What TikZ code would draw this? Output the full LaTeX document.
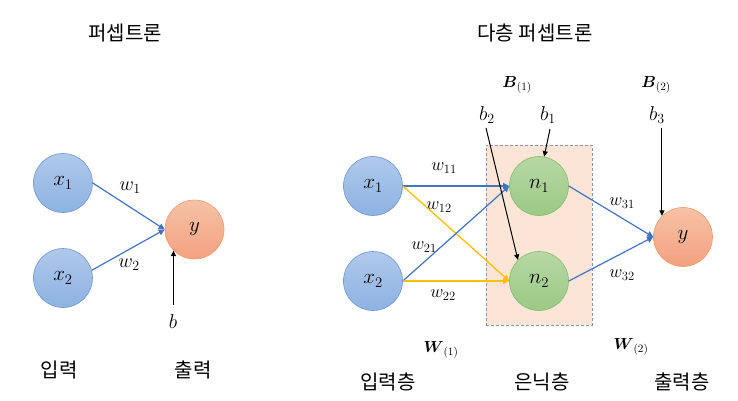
\RequirePackage{fix-cm}
\documentclass[tikz,border=0pt]{standalone}
\usepackage{amsmath}
\usepackage{fontspec}
\newfontfamily\kr{Noto Sans CJK KR}
\usetikzlibrary{arrows.meta}
\definecolor{bluetop}{HTML}{AFC9EA}
\definecolor{bluebot}{HTML}{8DB2E2}
\definecolor{bluebd}{HTML}{6E98CF}
\definecolor{orgtop}{HTML}{F6C2A6}
\definecolor{orgbot}{HTML}{F3A17F}
\definecolor{orgbd}{HTML}{EE9A68}
\definecolor{grntop}{HTML}{B6D8A3}
\definecolor{grnbot}{HTML}{9BC985}
\definecolor{grnbd}{HTML}{86BB6C}
\definecolor{arrblue}{HTML}{4472C4}
\definecolor{arryel}{HTML}{FFC000}
\definecolor{hidfill}{HTML}{FBE5D6}
\definecolor{hidbd}{HTML}{8497B0}
\begin{document}
\begin{tikzpicture}[x=1pt,y=-1pt,
  neuron/.style={circle,minimum size=59pt,inner sep=0pt,line width=0.6pt,font=\fontsize{21}{25}\selectfont},
  inn/.style={neuron,draw=bluebd,top color=bluetop,bottom color=bluebot},
  outn/.style={neuron,draw=orgbd,top color=orgtop,bottom color=orgbot},
  hidn/.style={neuron,draw=grnbd,top color=grntop,bottom color=grnbot},
  wbig/.style={inner sep=0pt,font=\fontsize{20}{24}\selectfont},
  wsm/.style={inner sep=0pt,font=\fontsize{18}{22}\selectfont},
  blab/.style={inner sep=0pt,font=\fontsize{20}{24}\selectfont},
  mlab/.style={inner sep=0pt,font=\fontsize{16}{19}\selectfont},
  krt/.style={inner sep=0pt,font=\kr\fontsize{20}{24}\selectfont},
  barrow/.style={draw=arrblue,line width=1.2pt,-{Triangle[length=6pt,width=6pt]}},
  yarrow/.style={draw=arryel,line width=1.3pt,-{Triangle[length=6pt,width=6pt]}},
  karrow/.style={draw=black,line width=1pt,-{Triangle[length=5.5pt,width=5pt]}}
]
\useasboundingbox (0,0) rectangle (738,401);

% ---------- left: perceptron ----------
\node[krt] (t1) at (125,33) {퍼셉트론};
\node[inn] (x1) at (63,183) {$x_1$};
\node[inn] (x2) at (63,278) {$x_2$};
\node[outn] (y) at (194.5,229.5) {$y$};
\node[wbig] (w1) at (130,188) {$w_1$};
\node[wbig] (w2) at (129,265) {$w_2$};
\node[blab] (b) at (173,322) {$b$};
\node[krt] (in1) at (59,370) {입력};
\node[krt] (out1) at (193,370) {출력};
\draw[barrow] (x1.east) -- (y.west);
\draw[barrow] (x2.15) -- (y.west);
\coordinate (bs) at (y.south west |- 0,305);
\draw[karrow] (bs) -- (y.south west);

% ---------- right: multilayer perceptron ----------
\node[krt] (t2) at (535,33) {다층 퍼셉트론};
\node[draw=hidbd,fill=hidfill,line width=0.9pt,dash pattern=on 3pt off 2pt,
      minimum width=106pt,minimum height=180pt,inner sep=0pt] (hid) at (539,235) {};
\node[inn] (X1) at (373,186) {$x_1$};
\node[inn] (X2) at (373,281) {$x_2$};
\node[hidn] (N1) at (539,186) {$n_1$};
\node[hidn] (N2) at (539,281) {$n_2$};
\node[outn] (Y) at (683,237) {$y$};

\node[mlab] (B1) at (517,85) {$\boldsymbol{B}_{(1)}$};
\node[mlab] (B2) at (656,85) {$\boldsymbol{B}_{(2)}$};
\node[blab] (b2) at (487,115) {$b_2$};
\node[blab] (b1) at (548,115) {$b_1$};
\node[blab] (b3) at (657,115) {$b_3$};

\node[wsm] (w11) at (444,168) {$w_{11}$};
\node[wsm] (w12) at (439,207) {$w_{12}$};
\node[wsm] (w21) at (424,247) {$w_{21}$};
\node[wsm] (w22) at (443,295) {$w_{22}$};
\node[wsm] (w31) at (622,203) {$w_{31}$};
\node[wsm] (w32) at (622,275) {$w_{32}$};

\node[mlab] (W1) at (441,350) {$\boldsymbol{W}_{(1)}$};
\node[mlab] (W2) at (631,347) {$\boldsymbol{W}_{(2)}$};

\node[krt] (in2) at (388,382) {입력층};
\node[krt] (hd2) at (542,382) {은닉층};
\node[krt] (out2) at (682,382) {출력층};

\draw[barrow] (X1.east) -- (N1.west);
\draw[yarrow] (X1.east) -- (N2.west);
\draw[barrow] (X2.east) -- (N1.west);
\draw[yarrow] (X2.east) -- (N2.west);
\draw[barrow] (N1.east) -- (Y.west);
\draw[barrow] (N2.east) -- (Y.west);

\coordinate (b2s) at (486,128);
\coordinate (b1s) at (550,129);
\coordinate (b3s) at (Y.north west |- 0,128);
\draw[karrow] (b2s) -- (N2.north west);
\draw[karrow] (b1s) -- (N1.80);
\draw[karrow] (b3s) -- (Y.north west);
\end{tikzpicture}
\end{document}
